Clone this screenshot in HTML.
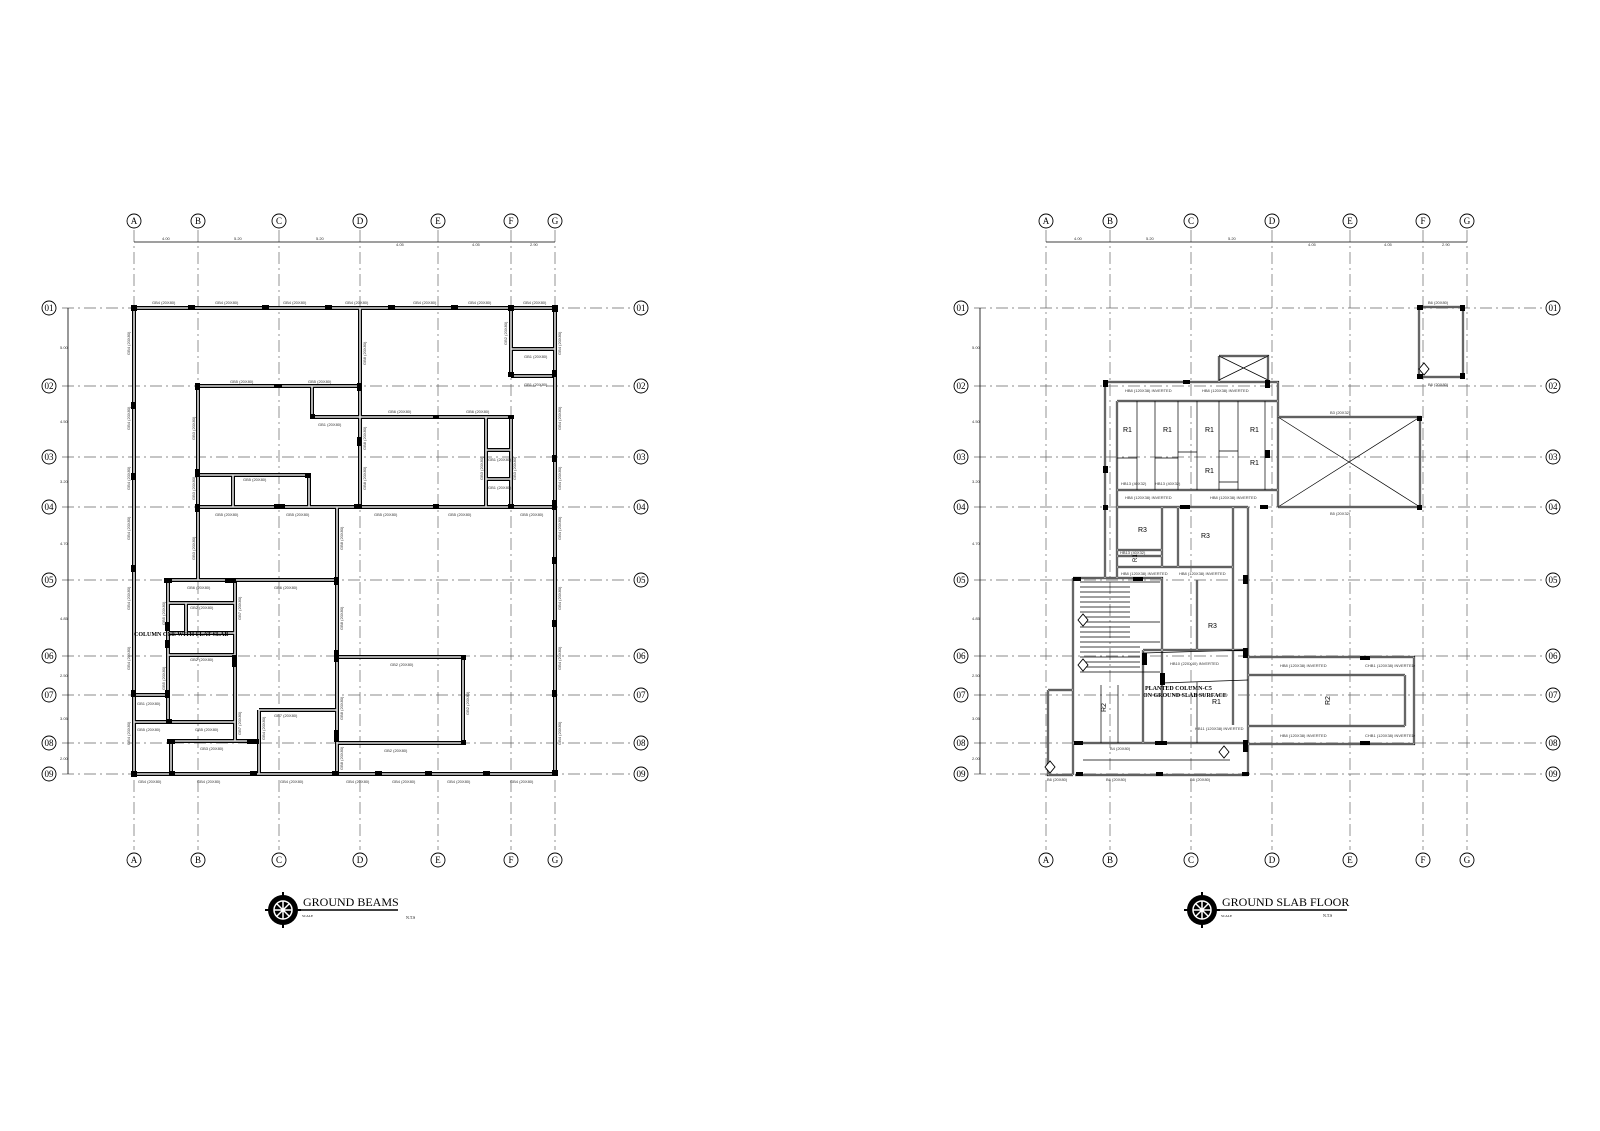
<!DOCTYPE html>
<html><head><meta charset="utf-8"><style>
html,body{margin:0;padding:0;background:#fff}
svg{display:block}
.g{stroke:#666;stroke-width:0.7;stroke-dasharray:12 4 2 4;fill:none}
.bub circle{fill:#fff;stroke:#000;stroke-width:0.9}
.bub text{font-size:9px;text-anchor:middle;dominant-baseline:central;font-family:"Liberation Serif",serif}
.lb,.lbv,.dm{font-size:4px;fill:#333;font-family:"Liberation Sans",sans-serif}
.sf{font-family:"Liberation Serif",serif}
</style></head><body>
<svg width="1600" height="1131" viewBox="0 0 1600 1131" xmlns="http://www.w3.org/2000/svg">
<defs>
<path id="bl" d="M134 308H555 M134 308V774 M555 308V774 M134 774H555 M360 308V507 M511 308V376 M511 349H555 M511 376H555 M198 386H360 M198 386V580 M312 386V417H360 M360 417H511V507 M486 417V507 M486 450H511 M486 479H511 M198 475H309V507 M233 475V507 M198 507H555 M337 507V774 M168 580H337 M168 580V722 M134 695H168 M134 722H235 M171 741V774 M235 580V741 M171 741H259 M259 710V774 M259 710H337 M168 603H235 M168 633H235 M168 655H235 M186 603V633 M337 657H463V743H337"/>
<path id="br" d="M1419 307H1463V377H1419Z M1219 356H1268V382 M1219 356V382 M1105 382H1278V507 M1105 382V578 M1117 401H1278 M1117 490H1278 M1117 401V578 M1117 507H1248 M1162 507V567 M1178 507V567 M1233 507V725 M1248 507V775 M1117 550H1162 M1117 556H1162 M1117 567H1233 M1073 578H1162V743 M1073 578V775 M1073 743H1248 M1075 775H1248 M1197 580V650 M1143 650H1248 M1143 650V743 M1248 657H1414V744H1248 M1248 675H1405 M1248 726H1405 M1405 675V726 M1048 690H1073 M1048 690V775H1073 M1278 417H1420V507H1278"/>
<g id="colsL" fill="#000">
<rect x="131" y="305" width="6" height="6"/><rect x="188" y="305" width="7" height="5"/><rect x="262" y="305" width="7" height="5"/><rect x="325" y="305" width="7" height="5"/><rect x="388" y="305" width="7" height="5"/><rect x="451" y="305" width="7" height="5"/><rect x="508" y="305" width="6" height="6"/><rect x="552" y="305" width="6" height="7"/>
<rect x="131" y="402" width="5" height="7"/><rect x="131" y="473" width="5" height="7"/><rect x="131" y="565" width="5" height="7"/><rect x="131" y="690" width="5" height="7"/><rect x="131" y="771" width="6" height="6"/>
<rect x="552" y="370" width="5" height="7"/><rect x="552" y="455" width="5" height="7"/><rect x="552" y="500" width="5" height="7"/><rect x="552" y="557" width="5" height="7"/><rect x="552" y="620" width="5" height="7"/><rect x="552" y="690" width="5" height="7"/><rect x="552" y="770" width="6" height="6"/>
<rect x="508" y="372" width="6" height="5"/><rect x="195" y="383" width="5" height="7"/><rect x="274" y="384" width="8" height="4"/><rect x="357" y="383" width="5" height="8"/><rect x="310" y="414" width="5" height="5"/><rect x="357" y="437" width="5" height="9"/><rect x="433" y="415" width="6" height="4"/><rect x="508" y="415" width="6" height="4"/>
<rect x="195" y="469" width="5" height="8"/><rect x="305" y="473" width="6" height="5"/><rect x="195" y="504" width="5" height="8"/><rect x="274" y="504" width="11" height="5"/><rect x="354" y="504" width="8" height="5"/><rect x="433" y="504" width="6" height="4"/><rect x="508" y="504" width="6" height="5"/><rect x="552" y="503" width="5" height="7"/>
<rect x="164" y="578" width="8" height="5"/><rect x="225" y="578" width="11" height="5"/><rect x="334" y="577" width="5" height="8"/><rect x="165" y="622" width="5" height="9"/><rect x="165" y="640" width="5" height="8"/><rect x="232" y="655" width="5" height="12"/><rect x="334" y="650" width="5" height="12"/><rect x="165" y="690" width="5" height="8"/><rect x="166" y="719" width="6" height="5"/><rect x="461" y="655" width="5" height="5"/><rect x="334" y="730" width="5" height="12"/><rect x="461" y="740" width="5" height="5"/><rect x="167" y="739" width="8" height="5"/><rect x="247" y="739" width="12" height="5"/>
<rect x="169" y="771" width="6" height="5"/><rect x="250" y="771" width="7" height="5"/><rect x="332" y="771" width="7" height="5"/><rect x="375" y="771" width="7" height="5"/><rect x="425" y="771" width="7" height="5"/><rect x="483" y="771" width="7" height="5"/>
</g>
</defs>

<g class="g">
<path d="M134 230V850 M198 230V850 M279 230V850 M360 230V850 M438 230V850 M511 230V850 M555 230V850"/>
<path d="M62 308H630 M62 386H630 M62 457H630 M62 507H630 M62 580H630 M62 656H630 M62 695H630 M62 743H630 M62 774H630"/>
<path d="M1046 230V850 M1110 230V850 M1191 230V850 M1272 230V850 M1350 230V850 M1423 230V850 M1467 230V850"/>
<path d="M974 308H1542 M974 386H1542 M974 457H1542 M974 507H1542 M974 580H1542 M974 656H1542 M974 695H1542 M974 743H1542 M974 774H1542"/>
</g>

<g stroke="#000" stroke-width="0.8" fill="none">
<path d="M134 242H555 M68 308V774"/>
<path d="M1046 242H1467 M980 308V774"/>
</g>
<g class="dm">
<text x="162" y="240">4.00</text><text x="234" y="240">5.20</text><text x="316" y="240">5.20</text><text x="396" y="246">4.05</text><text x="472" y="246">4.05</text><text x="530" y="246">2.90</text>
<text x="60" y="349">5.00</text><text x="60" y="423">4.50</text><text x="60" y="483">3.20</text><text x="60" y="545">4.70</text><text x="60" y="620">4.85</text><text x="60" y="677">2.50</text><text x="60" y="720">3.05</text><text x="60" y="760">2.00</text>
<text x="1074" y="240">4.00</text><text x="1146" y="240">5.20</text><text x="1228" y="240">5.20</text><text x="1308" y="246">4.05</text><text x="1384" y="246">4.05</text><text x="1442" y="246">2.90</text>
<text x="972" y="349">5.00</text><text x="972" y="423">4.50</text><text x="972" y="483">3.20</text><text x="972" y="545">4.70</text><text x="972" y="620">4.85</text><text x="972" y="677">2.50</text><text x="972" y="720">3.05</text><text x="972" y="760">2.00</text>
</g>

<use href="#bl" stroke="#000" stroke-width="4" fill="none"/>
<use href="#bl" stroke="#ddd" stroke-width="1.6" fill="none"/>
<use href="#colsL"/>

<use href="#br" stroke="#000" stroke-width="2.2" fill="none"/>
<use href="#br" stroke="#fff" stroke-width="0.8" fill="none"/>
<g stroke="#000" stroke-width="0.7" fill="none">
<path d="M1137 401V490 M1155 401V490 M1178 401V490 M1197 401V490 M1219 401V490 M1238 401V490 M1265 401V490"/>
<path d="M1278 417L1420 507 M1420 417L1278 507 M1219 356L1268 380 M1268 356L1219 380"/>
<path d="M1117 458H1137 M1155 458H1178 M1219 451H1238 M1219 482H1238 M1178 452H1197"/>
<path d="M1143 653L1248 650 M1162 683L1248 680 M1197 682V743"/>
<path d="M1080 582H1160 M1080 587H1130 M1080 592H1130 M1080 597H1130 M1080 602H1130 M1080 607H1130 M1080 612H1130 M1080 617H1130 M1080 622H1160 M1080 627H1130 M1080 632H1130 M1080 637H1130 M1080 642H1160 M1080 647H1140 M1080 652H1140 M1080 657H1140 M1080 662H1140 M1080 667H1140 M1080 672H1160"/>
<path d="M1101 685V743 M1118 685V743 M1083 760H1230"/>
</g>
<g fill="#000">
<rect x="1103" y="380" width="5" height="7"/><rect x="1183" y="380" width="7" height="4"/><rect x="1265" y="380" width="5" height="8"/><rect x="1265" y="450" width="5" height="8"/><rect x="1103" y="466" width="5" height="7"/><rect x="1103" y="505" width="5" height="5"/><rect x="1180" y="505" width="10" height="4"/><rect x="1260" y="505" width="8" height="4"/><rect x="1417" y="416" width="5" height="5"/><rect x="1417" y="505" width="5" height="5"/>
<rect x="1417" y="305" width="6" height="5"/><rect x="1460" y="305" width="5" height="6"/><rect x="1417" y="374" width="6" height="5"/><rect x="1460" y="373" width="5" height="6"/>
<rect x="1073" y="577" width="8" height="4"/><rect x="1133" y="577" width="10" height="4"/><rect x="1243" y="575" width="5" height="9"/><rect x="1243" y="648" width="5" height="10"/><rect x="1142" y="653" width="5" height="12"/><rect x="1160" y="673" width="5" height="12"/><rect x="1360" y="656" width="10" height="4"/><rect x="1360" y="741" width="10" height="4"/><rect x="1243" y="740" width="5" height="12"/><rect x="1074" y="741" width="9" height="4"/><rect x="1155" y="741" width="12" height="4"/><rect x="1076" y="772" width="7" height="4"/><rect x="1156" y="772" width="7" height="4"/><rect x="1242" y="772" width="7" height="4"/>
</g>
<g fill="#fff" stroke="#000" stroke-width="0.9">
<path d="M1078 620l5 -6 5 6 -5 6z"/><path d="M1078 665l5 -6 5 6 -5 6z"/><path d="M1419 369l5 -6 5 6 -5 6z"/><path d="M1219 752l5 -6 5 6 -5 6z"/><path d="M1045 767l5 -6 5 6 -5 6z"/>
</g>
<g style="font-size:7px;font-family:'Liberation Sans',sans-serif" fill="#000">
<text x="1123" y="432">R1</text><text x="1163" y="432">R1</text><text x="1205" y="432">R1</text><text x="1250" y="432">R1</text><text x="1205" y="473">R1</text><text x="1250" y="465">R1</text>
<text x="1138" y="532">R3</text><text x="1201" y="538">R3</text><text x="1208" y="628">R3</text><text x="1212" y="704">R1</text>
<text x="1330" y="705" transform="rotate(-90 1330 705)">R2</text><text x="1106" y="712" transform="rotate(-90 1106 712)">R2</text>
<text x="1137" y="562" transform="rotate(-90 1137 562)" style="font-size:6px">R1</text>
</g>
<g class="lb">
<text x="1125" y="392">HB8 (120X38) INVERTED</text><text x="1202" y="392">HB8 (120X38) INVERTED</text>
<text x="1125" y="499">HB8 (120X38) INVERTED</text><text x="1210" y="499">HB8 (120X38) INVERTED</text>
<text x="1121" y="575">HB8 (120X38) INVERTED</text><text x="1179" y="575">HB8 (120X38) INVERTED</text>
<text x="1121" y="485">HB13 (40X32)</text><text x="1155" y="485">HB13 (40X32)</text><text x="1120" y="554">HB13 (40X32)</text>
<text x="1170" y="665">HB10 (220X40) INVERTED</text><text x="1195" y="730">HB11 (120X38) INVERTED</text>
<text x="1280" y="667">HB8 (120X38) INVERTED</text><text x="1365" y="667">CHB1 (120X38) INVERTED</text>
<text x="1280" y="737">HB8 (120X38) INVERTED</text><text x="1365" y="737">CHB1 (120X38) INVERTED</text>
<text x="1330" y="414">B3 (20X32)</text><text x="1330" y="515">B5 (20X32)</text><text x="1428" y="304">B6 (20X80)</text><text x="1428" y="386">B6 (20X80)</text>
<text x="1106" y="781">B6 (20X80)</text><text x="1190" y="781">B6 (20X80)</text><text x="1110" y="750">B4 (20X80)</text><text x="1047" y="781">B6 (20X80)</text>
</g>
<g style="font-size:6px;font-weight:bold;font-family:'Liberation Serif',serif"><text x="1145" y="690">PLANTED COLUMN-C5</text><text x="1143" y="697">ON GROUND SLAB SURFACE</text></g>

<g class="lb">
<text x="152" y="304">GB4 (20X80)</text><text x="215" y="304">GB4 (20X80)</text><text x="283" y="304">GB4 (20X80)</text><text x="345" y="304">GB4 (20X80)</text><text x="413" y="304">GB4 (20X80)</text><text x="468" y="304">GB4 (20X80)</text><text x="523" y="304">GB4 (20X80)</text>
<text x="230" y="383">GB5 (20X80)</text><text x="308" y="383">GB5 (20X80)</text><text x="388" y="413">GB6 (20X80)</text><text x="466" y="413">GB6 (20X80)</text><text x="318" y="426">GB1 (20X80)</text>
<text x="524" y="358">GB1 (20X80)</text><text x="524" y="386">GB1 (20X80)</text><text x="488" y="461">GB1 (20X80)</text><text x="488" y="489">GB1 (20X80)</text>
<text x="243" y="481">GB5 (20X80)</text><text x="215" y="516">GB5 (20X80)</text><text x="286" y="516">GB5 (20X80)</text><text x="374" y="516">GB5 (20X80)</text><text x="448" y="516">GB5 (20X80)</text><text x="520" y="516">GB5 (20X80)</text>
<text x="187" y="589">GB6 (20X80)</text><text x="274" y="589">GB6 (20X80)</text><text x="190" y="609">GB2 (20X80)</text><text x="190" y="661">GB2 (20X80)</text><text x="390" y="666">GB2 (20X80)</text><text x="384" y="752">GB2 (20X80)</text>
<text x="137" y="705">GB1 (20X80)</text><text x="137" y="731">GB5 (20X80)</text><text x="195" y="731">GB5 (20X80)</text><text x="200" y="750">GB3 (20X80)</text><text x="274" y="717">GB7 (20X80)</text>
<text x="138" y="783">GB4 (20X80)</text><text x="197" y="783">GB4 (20X80)</text><text x="280" y="783">GB4 (20X80)</text><text x="346" y="783">GB4 (20X80)</text><text x="392" y="783">GB4 (20X80)</text><text x="447" y="783">GB4 (20X80)</text><text x="510" y="783">GB4 (20X80)</text>
</g>
<g class="lbv">
<text transform="translate(130 355) rotate(-90)">GB4 (20X80)</text><text transform="translate(130 430) rotate(-90)">GB4 (20X80)</text><text transform="translate(130 490) rotate(-90)">GB4 (20X80)</text><text transform="translate(130 540) rotate(-90)">GB4 (20X80)</text><text transform="translate(130 610) rotate(-90)">GB4 (20X80)</text><text transform="translate(130 670) rotate(-90)">GB4 (20X80)</text><text transform="translate(130 745) rotate(-90)">GB4 (20X80)</text>
<text transform="translate(561 355) rotate(-90)">GB4 (20X80)</text><text transform="translate(561 430) rotate(-90)">GB4 (20X80)</text><text transform="translate(561 490) rotate(-90)">GB4 (20X80)</text><text transform="translate(561 540) rotate(-90)">GB4 (20X80)</text><text transform="translate(561 610) rotate(-90)">GB4 (20X80)</text><text transform="translate(561 670) rotate(-90)">GB4 (20X80)</text><text transform="translate(561 745) rotate(-90)">GB4 (20X80)</text>
<text transform="translate(366 365) rotate(-90)">GB8 (20X80)</text><text transform="translate(366 450) rotate(-90)">GB8 (20X80)</text><text transform="translate(366 490) rotate(-90)">GB8 (20X80)</text><text transform="translate(343 550) rotate(-90)">GB8 (20X80)</text><text transform="translate(343 630) rotate(-90)">GB8 (20X80)</text><text transform="translate(343 720) rotate(-90)">GB8 (20X80)</text><text transform="translate(343 770) rotate(-90)">GB8 (20X80)</text>
<text transform="translate(195 440) rotate(-90)">GB3 (20X80)</text><text transform="translate(195 500) rotate(-90)">GB3 (20X80)</text><text transform="translate(195 560) rotate(-90)">GB3 (20X80)</text><text transform="translate(507 345) rotate(-90)">GB2 (20X80)</text><text transform="translate(483 480) rotate(-90)">GB3 (20X80)</text><text transform="translate(516 480) rotate(-90)">GB3 (20X80)</text><text transform="translate(469 715) rotate(-90)">GB2 (20X80)</text>
<text transform="translate(165 625) rotate(-90)">GB5 (20X80)</text><text transform="translate(165 690) rotate(-90)">GB5 (20X80)</text><text transform="translate(241 620) rotate(-90)">GB7 (20X80)</text><text transform="translate(241 735) rotate(-90)">GB7 (20X80)</text><text transform="translate(265 740) rotate(-90)">GB4 (20X80)</text>
</g>
<text x="134" y="636" style="font-size:6px;font-weight:bold;font-family:'Liberation Serif',serif">COLUMN ONE WITH FLAT SLAB</text>

<g class="bub">
<g><circle cx="134" cy="221" r="7"/><text x="134" y="221">A</text></g><g><circle cx="198" cy="221" r="7"/><text x="198" y="221">B</text></g><g><circle cx="279" cy="221" r="7"/><text x="279" y="221">C</text></g><g><circle cx="360" cy="221" r="7"/><text x="360" y="221">D</text></g><g><circle cx="438" cy="221" r="7"/><text x="438" y="221">E</text></g><g><circle cx="511" cy="221" r="7"/><text x="511" y="221">F</text></g><g><circle cx="555" cy="221" r="7"/><text x="555" y="221">G</text></g>
<g><circle cx="134" cy="860" r="7"/><text x="134" y="860">A</text></g><g><circle cx="198" cy="860" r="7"/><text x="198" y="860">B</text></g><g><circle cx="279" cy="860" r="7"/><text x="279" y="860">C</text></g><g><circle cx="360" cy="860" r="7"/><text x="360" y="860">D</text></g><g><circle cx="438" cy="860" r="7"/><text x="438" y="860">E</text></g><g><circle cx="511" cy="860" r="7"/><text x="511" y="860">F</text></g><g><circle cx="555" cy="860" r="7"/><text x="555" y="860">G</text></g>
<g><circle cx="1046" cy="221" r="7"/><text x="1046" y="221">A</text></g><g><circle cx="1110" cy="221" r="7"/><text x="1110" y="221">B</text></g><g><circle cx="1191" cy="221" r="7"/><text x="1191" y="221">C</text></g><g><circle cx="1272" cy="221" r="7"/><text x="1272" y="221">D</text></g><g><circle cx="1350" cy="221" r="7"/><text x="1350" y="221">E</text></g><g><circle cx="1423" cy="221" r="7"/><text x="1423" y="221">F</text></g><g><circle cx="1467" cy="221" r="7"/><text x="1467" y="221">G</text></g>
<g><circle cx="1046" cy="860" r="7"/><text x="1046" y="860">A</text></g><g><circle cx="1110" cy="860" r="7"/><text x="1110" y="860">B</text></g><g><circle cx="1191" cy="860" r="7"/><text x="1191" y="860">C</text></g><g><circle cx="1272" cy="860" r="7"/><text x="1272" y="860">D</text></g><g><circle cx="1350" cy="860" r="7"/><text x="1350" y="860">E</text></g><g><circle cx="1423" cy="860" r="7"/><text x="1423" y="860">F</text></g><g><circle cx="1467" cy="860" r="7"/><text x="1467" y="860">G</text></g>
<g><circle cx="49" cy="308" r="7"/><text x="49" y="308">01</text></g><g><circle cx="49" cy="386" r="7"/><text x="49" y="386">02</text></g><g><circle cx="49" cy="457" r="7"/><text x="49" y="457">03</text></g><g><circle cx="49" cy="507" r="7"/><text x="49" y="507">04</text></g><g><circle cx="49" cy="580" r="7"/><text x="49" y="580">05</text></g><g><circle cx="49" cy="656" r="7"/><text x="49" y="656">06</text></g><g><circle cx="49" cy="695" r="7"/><text x="49" y="695">07</text></g><g><circle cx="49" cy="743" r="7"/><text x="49" y="743">08</text></g><g><circle cx="49" cy="774" r="7"/><text x="49" y="774">09</text></g>
<g><circle cx="641" cy="308" r="7"/><text x="641" y="308">01</text></g><g><circle cx="641" cy="386" r="7"/><text x="641" y="386">02</text></g><g><circle cx="641" cy="457" r="7"/><text x="641" y="457">03</text></g><g><circle cx="641" cy="507" r="7"/><text x="641" y="507">04</text></g><g><circle cx="641" cy="580" r="7"/><text x="641" y="580">05</text></g><g><circle cx="641" cy="656" r="7"/><text x="641" y="656">06</text></g><g><circle cx="641" cy="695" r="7"/><text x="641" y="695">07</text></g><g><circle cx="641" cy="743" r="7"/><text x="641" y="743">08</text></g><g><circle cx="641" cy="774" r="7"/><text x="641" y="774">09</text></g>
<g><circle cx="961" cy="308" r="7"/><text x="961" y="308">01</text></g><g><circle cx="961" cy="386" r="7"/><text x="961" y="386">02</text></g><g><circle cx="961" cy="457" r="7"/><text x="961" y="457">03</text></g><g><circle cx="961" cy="507" r="7"/><text x="961" y="507">04</text></g><g><circle cx="961" cy="580" r="7"/><text x="961" y="580">05</text></g><g><circle cx="961" cy="656" r="7"/><text x="961" y="656">06</text></g><g><circle cx="961" cy="695" r="7"/><text x="961" y="695">07</text></g><g><circle cx="961" cy="743" r="7"/><text x="961" y="743">08</text></g><g><circle cx="961" cy="774" r="7"/><text x="961" y="774">09</text></g>
<g><circle cx="1553" cy="308" r="7"/><text x="1553" y="308">01</text></g><g><circle cx="1553" cy="386" r="7"/><text x="1553" y="386">02</text></g><g><circle cx="1553" cy="457" r="7"/><text x="1553" y="457">03</text></g><g><circle cx="1553" cy="507" r="7"/><text x="1553" y="507">04</text></g><g><circle cx="1553" cy="580" r="7"/><text x="1553" y="580">05</text></g><g><circle cx="1553" cy="656" r="7"/><text x="1553" y="656">06</text></g><g><circle cx="1553" cy="695" r="7"/><text x="1553" y="695">07</text></g><g><circle cx="1553" cy="743" r="7"/><text x="1553" y="743">08</text></g><g><circle cx="1553" cy="774" r="7"/><text x="1553" y="774">09</text></g>
</g>

<g id="cmp">
<circle cx="283" cy="910" r="15" fill="#000"/>
<circle cx="283" cy="910" r="9" fill="none" stroke="#fff" stroke-width="1.5"/>
<path d="M274 910H292 M283 901V919 M277 904L289 916 M289 904L277 916" stroke="#fff" stroke-width="1.5"/>
<path d="M283 892v4 M283 924v4 M265 910h4 M297 910h4" stroke="#000" stroke-width="2"/>
</g>
<text x="303" y="906" style="font-family:'Liberation Serif',serif;font-size:12px">GROUND BEAMS</text>
<path d="M300 910H398" stroke="#000" stroke-width="1.5"/>
<text x="302" y="917" style="font-size:3.5px;font-family:'Liberation Serif',serif">SCALE</text>
<text x="406" y="919" style="font-size:4px;font-family:'Liberation Serif',serif">N.T.S</text>

<use href="#cmp" transform="translate(919 0)"/>
<text x="1222" y="906" style="font-family:'Liberation Serif',serif;font-size:12px">GROUND SLAB FLOOR</text>
<path d="M1219 910H1347" stroke="#000" stroke-width="1.5"/>
<text x="1221" y="917" style="font-size:3.5px;font-family:'Liberation Serif',serif">SCALE</text>
<text x="1323" y="917" style="font-size:4px;font-family:'Liberation Serif',serif">N.T.S</text>
</svg>
</body></html>
